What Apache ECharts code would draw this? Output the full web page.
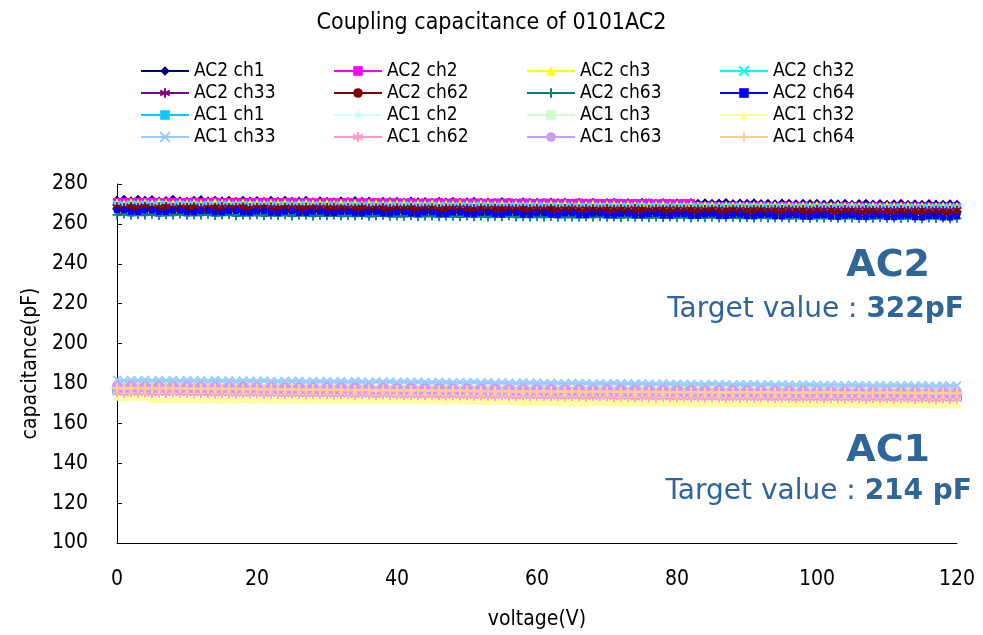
<!DOCTYPE html>
<html><head><meta charset="utf-8">
<script src="https://cdn.jsdelivr.net/npm/echarts@6/dist/echarts.min.js"></script>
<style>html,body{margin:0;padding:0;background:#fff}#c{width:983px;height:635px}</style>
</head><body><div id="c"></div>
<script>
const titleText = 'Coupling capacitance of 0101AC2';
const xTicks = [0, 20, 40, 60, 80, 100, 120];
const yTicks = [100, 120, 140, 160, 180, 200, 220, 240, 260, 280];
const voltage = [0,1,2,3,4,5,6,7,8,9,10,11,12,13,14,15,16,17,18,19,20,21,22,23,24,25,26,27,28,29,30,31,32,33,34,35,36,37,38,39,40,41,42,43,44,45,46,47,48,49,50,51,52,53,54,55,56,57,58,59,60,61,62,63,64,65,66,67,68,69,70,71,72,73,74,75,76,77,78,79,80,81,82,83,84,85,86,87,88,89,90,91,92,93,94,95,96,97,98,99,100,101,102,103,104,105,106,107,108,109,110,111,112,113,114,115,116,117,118,119,120];
const seriesNames = ['AC2 ch1','AC2 ch2','AC2 ch3','AC2 ch32','AC2 ch33','AC2 ch62','AC2 ch63','AC2 ch64','AC1 ch1','AC1 ch2','AC1 ch3','AC1 ch32','AC1 ch33','AC1 ch62','AC1 ch63','AC1 ch64'];

const ac2ch1 = [272.0,272.4,271.6,272.3,271.8,272.2,271.5,271.7,272.3,271.6,
271.4,271.9,272.2,271.5,271.9,271.6,271.8,271.3,271.9,271.5,
271.7,271.2,271.8,271.4,271.9,271.3,271.5,271.8,271.1,271.6,
271.4,271.1,271.6,271.2,271.7,271.3,271.5,271.0,271.4,271.2,
271.3,270.9,271.5,271.1,271.2,270.8,271.3,271.0,271.4,270.8,
271.1,271.3,270.8,271.0,270.7,271.2,270.9,270.6,271.1,270.8,
270.9,270.6,271.0,270.7,270.9,270.5,270.8,270.6,270.9,270.4,
270.7,270.8,270.5,270.7,270.4,270.8,270.6,270.3,270.7,270.5,
270.6,270.3,270.7,270.4,270.6,270.3,270.5,270.7,270.2,270.5,
270.4,270.6,270.2,270.4,270.1,270.5,270.3,270.1,270.4,270.2,
270.3,270.0,270.4,270.1,270.3,269.9,270.2,270.4,270.0,270.2,
269.9,270.1,270.3,269.9,270.1,269.8,270.2,270.0,269.8,270.1,269.9];
const ac2ch2 = [271.0,271.1,270.9,271.1,271.0,271.2,270.9,271.0,271.1,270.9,
271.0,271.1,270.9,271.0,271.2,270.9,271.0,271.1,270.8,271.0,
270.9,271.1,270.8,271.0,270.9,271.1,270.8,271.0,270.9,270.7,
271.0,270.9,270.8,271.0,270.7,270.9,270.8,271.0,270.7,270.9,
270.8,270.7,270.9,270.6,270.8,270.7,270.9,270.6,270.8,270.7,
270.6,270.8,270.7,270.5,270.7,270.6,270.8,270.5,270.7,270.6,
270.5,270.7,270.6,270.4,270.6,270.5,270.7,270.4,270.6,270.5,
270.4,270.6,270.5,270.3,270.5,270.4,270.6,270.3,270.5,270.4,
270.3,270.5,270.4,269.1,268.9,269.1,269.0,268.8,269.0,268.9,
269.1,268.8,269.0,268.9,268.7,268.9,269.0,268.8,268.9,268.7,
268.9,268.8,268.6,268.8,268.9,268.7,268.8,268.6,268.8,268.7,
268.5,268.7,268.8,268.6,268.7,268.5,268.7,268.6,268.4,268.6,268.5];
const ac2ch3 = [270.6,270.2,270.9,270.4,270.7,270.3,270.8,270.5,270.2,270.7,
270.4,270.6,270.1,270.5,270.8,270.3,270.5,270.2,270.6,270.3,
270.5,270.1,270.4,270.2,270.6,270.0,270.3,270.5,270.1,270.4,
270.2,270.0,270.4,270.1,270.3,269.9,270.2,270.4,269.9,270.2,
270.0,270.3,269.8,270.1,269.9,270.2,269.8,270.0,269.7,270.1,
269.9,269.7,270.0,269.8,269.6,270.0,269.7,269.9,269.6,269.8,
269.7,269.5,269.9,269.6,269.8,269.4,269.7,269.5,269.8,269.4,
269.6,269.7,269.3,269.6,269.4,269.7,269.3,269.5,269.6,269.2,
269.5,269.3,269.6,269.2,269.4,269.5,269.1,269.4,269.2,269.5,
269.1,269.3,269.4,269.0,269.3,269.1,269.4,269.0,269.2,269.1,
269.3,268.9,269.1,269.2,268.9,269.2,269.0,268.8,269.1,268.9,
269.2,268.8,269.0,269.1,268.7,269.0,268.9,268.7,269.0,268.8,268.9];
const ac2ch32 = [269.6,269.3,269.8,269.4,269.6,269.2,269.7,269.5,269.3,269.6,
269.4,269.7,269.2,269.5,269.3,269.6,269.1,269.4,269.5,269.2,
269.4,269.1,269.5,269.2,269.4,269.0,269.3,269.5,269.1,269.3,
269.2,269.4,269.0,269.3,269.1,268.9,269.3,269.0,269.2,268.9,
269.1,269.2,268.8,269.1,268.9,269.2,268.8,269.0,268.9,268.7,
269.0,268.8,269.1,268.7,268.9,268.8,268.6,268.9,268.7,268.9,
268.7,268.9,268.6,268.8,268.5,268.8,268.7,268.5,268.8,268.6,
268.7,268.5,268.8,268.4,268.6,268.7,268.4,268.6,268.5,268.3,
268.6,268.4,268.6,268.3,268.5,268.4,268.2,268.5,268.3,268.5,
268.3,268.4,268.2,268.5,268.2,268.4,268.1,268.3,268.4,268.1,
268.3,268.2,268.0,268.3,268.1,268.3,268.0,268.2,268.1,267.9,
268.2,268.0,268.2,267.9,268.1,268.0,267.8,268.1,267.9,268.0,267.9];
const ac2ch33 = [268.6,268.2,268.7,268.4,268.8,268.3,268.5,268.7,268.2,268.6,
268.4,268.6,268.1,268.5,268.3,268.7,268.2,268.4,268.6,268.1,
268.4,268.2,268.5,268.0,268.3,268.4,268.1,268.3,268.0,268.4,
268.2,268.3,267.9,268.2,268.0,268.3,267.9,268.1,268.2,267.8,
268.1,267.9,268.2,267.8,268.0,268.1,267.7,268.0,267.8,268.1,
267.9,267.7,268.0,267.8,267.9,267.6,267.9,267.7,267.9,267.6,
267.8,267.6,267.9,267.5,267.7,267.8,267.5,267.7,267.6,267.4,
267.7,267.5,267.6,267.4,267.7,267.5,267.3,267.6,267.4,267.6,
267.4,267.5,267.3,267.5,267.2,267.4,267.5,267.2,267.4,267.3,
267.1,267.4,267.3,267.1,267.3,267.2,267.4,267.1,267.2,267.0,
267.3,267.1,267.2,267.0,267.2,266.9,267.1,267.2,266.9,267.1,
267.0,266.9,267.1,266.8,267.0,267.1,266.8,267.0,266.9,266.8,267.0];
const ac2ch62 = [267.6,267.0,268.0,267.3,267.8,267.1,267.5,268.0,267.2,267.6,
267.3,267.8,266.9,267.4,267.7,267.0,267.5,267.2,267.8,266.9,
267.3,267.6,266.8,267.2,267.5,266.9,267.4,267.0,267.5,266.7,
267.2,266.9,267.4,266.7,267.1,267.3,266.6,267.0,267.2,266.6,
267.0,266.7,267.2,266.5,266.9,267.1,266.5,266.8,267.0,266.4,
266.8,266.5,266.9,266.3,266.7,266.8,266.3,266.6,266.9,266.2,
266.6,266.3,266.8,266.2,266.5,266.7,266.1,266.4,266.6,266.1,
266.5,266.2,266.6,266.0,266.3,266.5,265.9,266.3,266.4,265.9,
266.3,266.0,266.4,265.8,266.2,266.3,265.8,266.1,266.3,265.7,
266.1,265.8,266.2,265.7,266.0,266.1,265.6,265.9,266.1,265.5,
265.9,265.6,266.0,265.5,265.8,265.9,265.4,265.7,265.9,265.3,
265.7,265.5,265.8,265.2,265.6,265.7,265.2,265.5,265.6,265.1,265.5];
const ac2ch63 = [264.5,264.9,264.3,264.7,264.4,264.8,264.2,264.6,264.5,264.9,
264.3,264.6,264.4,264.8,264.2,264.5,264.7,264.1,264.5,264.3,
264.6,264.1,264.4,264.2,264.6,264.0,264.3,264.5,264.0,264.3,
264.1,264.4,263.9,264.2,264.0,264.3,263.8,264.1,264.3,263.8,
264.0,263.8,264.2,263.7,264.0,263.9,263.6,264.0,263.8,263.6,
263.9,263.6,263.9,263.5,263.8,263.6,263.9,263.4,263.7,263.5,
263.7,263.4,263.8,263.3,263.6,263.5,263.3,263.6,263.4,263.7,
263.3,263.5,263.2,263.6,263.3,263.4,263.1,263.5,263.2,263.4,
263.2,263.4,263.0,263.3,263.1,263.4,263.0,263.2,263.3,262.9,
263.2,263.0,263.3,262.9,263.1,263.2,262.8,263.1,263.0,262.8,
263.1,262.9,263.2,262.8,263.0,262.9,262.7,263.0,262.8,263.1,
262.8,263.0,262.7,262.9,262.8,262.6,262.9,262.7,262.9,262.6,262.8];
const ac2ch64 = [266.8,266.9,266.1,266.0,266.7,266.8,266.0,265.9,266.6,266.7,
265.9,265.8,266.5,266.6,265.8,265.7,266.4,266.5,265.7,265.6,
266.3,266.4,265.6,265.5,266.2,266.3,265.5,265.4,266.1,266.2,
265.4,265.3,266.0,266.1,265.3,265.2,265.9,266.0,265.2,265.1,
265.8,265.9,265.1,265.0,265.7,265.8,265.0,264.9,265.6,265.7,
264.9,264.8,265.5,265.6,264.8,264.7,265.4,265.5,264.7,264.6,
265.3,265.4,264.6,264.5,265.2,265.3,264.5,264.4,265.1,265.2,
264.4,264.3,265.0,265.1,264.3,264.2,264.9,265.0,264.2,264.1,
264.8,264.9,264.1,264.0,264.7,264.8,264.0,263.9,264.6,264.7,
263.9,263.8,264.5,264.6,263.8,263.7,264.4,264.5,263.7,263.6,
264.3,264.4,263.6,263.5,264.2,264.3,263.5,263.4,264.1,264.2,
263.4,263.3,264.0,264.1,263.3,263.2,263.9,264.0,263.2,263.1,263.8];
const ac1ch1 = [176.5,176.4,176.6,176.3,176.5,176.4,176.2,176.5,176.3,176.4,
176.2,176.3,176.1,176.3,176.0,176.2,176.1,175.9,176.1,176.0,
175.9,176.0,175.8,175.9,175.7,175.9,175.8,175.6,175.8,175.7,
175.6,175.7,175.5,175.6,175.4,175.6,175.5,175.3,175.5,175.4,
175.3,175.4,175.2,175.3,175.1,175.3,175.2,175.0,175.2,175.1,
175.0,175.1,174.9,175.0,174.8,175.0,174.9,174.7,174.9,174.8,
174.7,174.8,174.6,174.7,174.5,174.7,174.6,174.4,174.6,174.5,
174.4,174.5,174.3,174.4,174.2,174.4,174.3,174.1,174.3,174.2,
174.1,174.2,174.0,174.1,173.9,174.1,174.0,173.8,174.0,173.9,
173.8,173.9,173.7,173.8,173.6,173.8,173.7,173.5,173.7,173.6,
173.5,173.6,173.4,173.5,173.3,173.5,173.4,173.2,173.4,173.3,
173.2,173.3,173.1,173.2,173.0,173.2,173.1,172.9,173.1,173.0,172.8];
const ac1ch2 = [177.2,177.4,177.1,177.3,177.0,177.3,177.2,177.0,177.3,177.1,
177.0,177.2,176.9,177.1,176.9,177.0,176.8,177.1,176.9,176.8,
177.0,176.7,176.9,176.8,176.6,176.8,176.7,176.5,176.8,176.6,
176.5,176.7,176.4,176.6,176.5,176.3,176.5,176.4,176.2,176.4,
176.3,176.1,176.4,176.2,176.0,176.2,176.1,175.9,176.1,176.0,
175.8,176.0,175.9,175.7,175.9,175.8,175.6,175.8,175.7,175.5,
175.7,175.6,175.4,175.6,175.5,175.3,175.5,175.4,175.2,175.4,
175.3,175.1,175.3,175.2,175.0,175.2,175.1,174.9,175.1,175.0,
174.9,175.0,174.8,174.9,174.7,174.9,174.8,174.6,174.8,174.7,
174.6,174.8,174.5,174.7,174.6,174.4,174.6,174.5,174.3,174.5,
174.4,174.6,174.3,174.5,174.4,174.2,174.4,174.3,174.1,174.3,
174.2,174.4,174.1,174.3,174.2,174.0,174.2,174.1,173.9,174.1,174.0];
const ac1ch3 = [176.0,176.2,175.9,176.1,175.8,176.0,176.1,175.8,176.0,175.9,
175.7,175.9,175.8,175.6,175.8,175.7,175.5,175.7,175.6,175.4,
175.6,175.5,175.3,175.5,175.4,175.2,175.4,175.3,175.1,175.3,
175.2,175.0,175.2,175.1,174.9,175.1,175.0,174.8,175.0,174.9,
174.7,174.9,174.8,174.6,174.8,174.7,174.5,174.7,174.6,174.4,
174.6,174.5,174.3,174.5,174.4,174.2,174.4,174.3,174.1,174.3,
174.2,174.0,174.2,174.1,173.9,174.1,174.0,173.8,174.0,173.9,
173.8,173.9,173.7,173.9,173.8,173.6,173.8,173.7,173.5,173.7,
173.6,173.4,173.6,173.5,173.3,173.5,173.4,173.2,173.4,173.3,
173.5,173.3,173.4,173.2,173.4,173.3,173.1,173.3,173.2,173.0,
173.3,173.2,173.0,173.2,173.1,172.9,173.1,173.0,172.8,173.0,
173.1,172.9,173.0,172.8,173.0,172.9,172.7,172.9,172.8,172.6,172.8];
const ac1ch32 = [173.6,173.4,173.7,173.5,173.6,172.4,172.5,172.3,172.5,172.4,
172.3,172.5,172.2,172.4,172.3,172.1,172.3,172.2,172.4,172.1,
172.3,172.2,172.0,172.2,172.1,172.3,172.0,172.2,172.1,171.9,
172.1,172.0,172.2,171.9,172.1,172.0,171.8,172.0,171.9,172.1,
171.8,172.0,171.9,171.7,171.9,171.8,172.0,171.7,171.9,171.8,
171.6,171.8,171.7,171.5,171.7,171.6,171.4,171.3,171.1,171.2,
171.0,171.2,171.1,170.9,171.1,171.0,170.8,171.0,170.9,171.1,
170.8,171.0,170.9,170.7,170.9,170.8,170.6,170.8,170.7,170.9,
170.6,170.8,170.7,170.5,170.7,170.6,170.4,170.6,170.5,170.7,
170.4,170.6,170.5,170.3,170.5,170.4,170.2,170.4,170.3,170.5,
170.2,170.4,170.3,170.1,170.3,170.2,170.0,170.2,170.1,170.3,
170.0,170.2,170.1,169.9,170.1,170.0,169.8,170.0,169.9,170.1,169.9];
const ac1ch33 = [181.8,181.4,181.7,181.5,181.8,181.3,181.6,181.4,181.7,181.3,
181.6,181.4,181.5,181.2,181.6,181.3,181.5,181.1,181.4,181.3,
181.1,181.4,181.2,181.0,181.3,181.1,181.3,180.9,181.2,181.0,
181.2,180.9,181.1,180.8,181.1,180.9,180.7,181.0,180.8,181.0,
180.7,180.9,180.6,180.8,180.7,180.5,180.8,180.6,180.4,180.7,
180.5,180.7,180.4,180.6,180.3,180.5,180.4,180.2,180.5,180.3,
180.4,180.1,180.3,180.2,180.0,180.3,180.1,180.2,179.9,180.1,
180.0,180.2,179.9,180.1,179.8,180.0,179.9,179.7,180.0,179.8,
179.9,179.6,179.8,179.7,179.5,179.8,179.6,179.7,179.4,179.6,
179.5,179.7,179.4,179.6,179.3,179.5,179.4,179.2,179.5,179.3,
179.4,179.1,179.3,179.2,179.0,179.3,179.1,179.2,178.9,179.1,
179.0,179.2,178.9,179.1,178.8,179.0,178.9,178.7,179.0,178.8,178.9];
const ac1ch62 = [175.4,175.1,175.5,175.2,175.3,174.9,175.2,175.0,175.3,174.9,
175.1,174.8,175.0,174.9,174.7,175.0,174.8,174.6,174.9,174.7,
174.8,174.5,174.7,174.6,174.4,174.7,174.5,174.3,174.6,174.4,
174.5,174.2,174.4,174.3,174.1,174.4,174.2,174.0,174.3,174.1,
174.2,173.9,174.1,174.0,173.8,174.1,173.9,173.7,174.0,173.8,
173.9,173.6,173.8,173.7,173.5,173.8,173.6,173.4,173.7,173.5,
173.6,173.3,173.5,173.4,173.2,173.5,173.3,173.1,173.4,173.2,
173.3,173.0,173.2,173.1,172.9,173.2,173.0,172.8,173.1,172.9,
173.0,172.8,173.0,172.9,172.7,172.9,172.8,172.6,172.9,172.7,
172.8,172.6,172.8,172.7,172.5,172.7,172.6,172.4,172.7,172.5,
172.6,172.4,172.6,172.5,172.3,172.5,172.4,172.2,172.5,172.3,
172.4,172.2,172.4,172.3,172.1,172.3,172.2,172.0,172.3,172.1,172.2];
const ac1ch63 = [178.6,177.4,178.7,177.5,178.5,177.3,178.6,177.4,178.4,177.2,
178.5,177.3,178.3,177.1,178.4,177.2,178.2,177.0,178.3,177.1,
178.1,176.9,178.2,177.0,178.0,176.8,178.1,176.9,177.9,176.7,
178.0,176.8,177.8,176.6,177.9,176.7,177.7,176.5,177.8,176.6,
177.6,176.4,177.7,176.5,177.5,176.3,177.6,176.4,177.4,176.2,
177.5,176.3,177.3,176.1,177.4,176.2,177.2,176.0,177.3,176.1,
177.1,175.9,177.2,176.0,177.0,175.8,177.1,175.9,176.9,175.7,
177.0,175.8,176.8,175.6,176.9,175.7,176.7,175.5,176.8,175.6,
176.6,175.4,176.7,175.5,176.5,175.3,176.6,175.4,176.4,175.2,
176.5,175.3,176.3,175.1,176.4,175.2,176.2,175.0,176.3,175.1,
176.1,174.9,176.2,175.0,176.0,174.8,176.1,174.9,175.9,174.7,
176.0,174.8,175.8,174.6,175.9,174.7,175.7,174.5,175.8,174.6,175.5];
const ac1ch64 = [177.7,177.5,177.6,177.8,177.5,177.6,177.4,177.7,177.5,177.6,
177.4,177.5,177.3,177.5,177.4,177.2,177.4,177.3,177.1,177.3,
177.2,177.0,177.2,177.1,176.9,177.1,177.0,176.8,177.0,176.9,
176.8,176.9,176.7,176.8,176.6,176.8,176.7,176.5,176.7,176.6,
176.5,176.6,176.4,176.5,176.3,176.5,176.4,176.2,176.4,176.3,
176.2,176.3,176.1,176.2,176.0,176.2,176.1,175.9,176.1,176.0,
176.0,176.1,175.9,176.0,175.8,176.0,175.9,175.7,175.9,175.8,
175.8,175.9,175.7,175.8,175.6,175.8,175.7,175.5,175.7,175.6,
175.6,175.7,175.5,175.6,175.4,175.6,175.5,175.3,175.5,175.4,
175.5,175.6,175.4,175.5,175.3,175.5,175.4,175.2,175.4,175.3,
175.4,175.5,175.3,175.4,175.2,175.4,175.3,175.1,175.3,175.2,
175.3,175.4,175.2,175.3,175.1,175.3,175.2,175.0,175.2,175.1,175.2];

const seriesValues = [ac2ch1, ac2ch2, ac2ch3, ac2ch32, ac2ch33, ac2ch62, ac2ch63, ac2ch64,
  ac1ch1, ac1ch2, ac1ch3, ac1ch32, ac1ch33, ac1ch62, ac1ch63, ac1ch64];

// ---- styles (not data) ----
const SYM_X = 'path://M0,0L10,10M10,0L0,10';
const SYM_STAR = 'path://M5,0L5,10M0.7,2.5L9.3,7.5M0.7,7.5L9.3,2.5';
const SYM_PLUS = 'path://M5,0L5,10M0,5L10,5';
const looks = [
  {c:'#000080', s:'diamond', z:9},
  {c:'#FF00FF', s:'rect', z:8},
  {c:'#FFFF00', s:'triangle', z:9},
  {c:'#00FFFF', s:SYM_X, z:8, k:true},
  {c:'#800080', s:SYM_STAR, z:9, k:true},
  {c:'#800000', s:'circle', z:8},
  {c:'#008080', s:SYM_PLUS, z:9, k:true},
  {c:'#0000FF', s:'rect', z:6},
  {c:'#00CCFF', s:'rect', z:[10,6]},
  {c:'#CCFFFF', s:'diamond', z:9},
  {c:'#CCFFCC', s:'rect', z:8},
  {c:'#FFFF99', s:'triangle', z:9},
  {c:'#99CCFF', s:SYM_X, z:8, k:true},
  {c:'#FF99CC', s:SYM_STAR, z:9, k:true},
  {c:'#CC99FF', s:'circle', z:10},
  {c:'#FFCC99', s:SYM_PLUS, z:11, k:true, w:2.4}
];
const FONT = "'DejaVu Sans Condensed','DejaVu Sans',sans-serif";
const ANN = '#2F6598';

const series = seriesNames.map((name, i) => {
  const L = looks[i];
  return {
    name: name,
    type: 'line',
    data: voltage.map((v, j) => [v, seriesValues[i][j]]),
    symbol: L.s,
    symbolSize: L.z,
    showAllSymbol: true,
    lineStyle: {color: L.c, width: 3},
    itemStyle: L.k ? {color: L.c, borderColor: L.c, borderWidth: L.w || 1.8} : {color: L.c, borderWidth: 0},
    emphasis: {disabled: true},
    silent: true
  };
});

const chart = echarts.init(document.getElementById('c'), null, {renderer: 'canvas'});
chart.setOption({
  animation: false,
  backgroundColor: '#fff',
  title: {
    text: titleText, left: 'center', top: 7,
    textStyle: {fontFamily: FONT, fontSize: 23, fontWeight: 'normal', color: '#000'}
  },
  legend: {
    data: seriesNames,
    left: 140, top: 60, width: 780, padding: 0,
    itemWidth: 48, itemHeight: 12, itemGap: 0,
    textStyle: {fontFamily: FONT, fontSize: 19, color: '#000', width: 139, lineHeight: 22},
    selectedMode: false
  },
  grid: {left: 117, right: 26, top: 184, bottom: 89},
  xAxis: {
    type: 'value', min: xTicks[0], max: xTicks[xTicks.length - 1], interval: 20,
    axisLine: {show: true, lineStyle: {color: '#000', width: 1}},
    axisTick: {show: false},
    splitLine: {show: false},
    axisLabel: {fontFamily: FONT, fontSize: 21, color: '#000', margin: 26},
    name: 'voltage(V)', nameLocation: 'middle', nameGap: 66,
    nameTextStyle: {fontFamily: FONT, fontSize: 21, color: '#000'}
  },
  yAxis: {
    type: 'value', min: yTicks[0], max: yTicks[yTicks.length - 1], interval: 20,
    axisLine: {show: true, lineStyle: {color: '#000', width: 1}},
    axisTick: {show: true, inside: true, length: 5, lineStyle: {color: '#000'}},
    splitLine: {show: false},
    axisLabel: {fontFamily: FONT, fontSize: 21, color: '#000', margin: 29},
    name: 'capacitance(pF)', nameLocation: 'middle', nameGap: 71, nameRotate: 90,
    nameTextStyle: {fontFamily: FONT, fontSize: 21, color: '#000'}
  },
  graphic: [
    {type: 'text', x: 930, y: 266, style: {text: 'AC2', fill: ANN, font: "bold 38px 'DejaVu Sans'", textAlign: 'right', textVerticalAlign: 'middle'}},
    {type: 'text', x: 964, y: 310, style: {text: '{n|Target value : }{b|322pF}', textAlign: 'right', textVerticalAlign: 'middle',
      rich: {n: {fill: ANN, fontSize: 28, fontFamily: 'DejaVu Sans'}, b: {fill: ANN, fontSize: 28, fontWeight: 'bold', fontFamily: 'DejaVu Sans'}}}},
    {type: 'text', x: 930, y: 451, style: {text: 'AC1', fill: ANN, font: "bold 38px 'DejaVu Sans'", textAlign: 'right', textVerticalAlign: 'middle'}},
    {type: 'text', x: 972, y: 492, style: {text: '{n|Target value : }{b|214 pF}', textAlign: 'right', textVerticalAlign: 'middle',
      rich: {n: {fill: ANN, fontSize: 28, fontFamily: 'DejaVu Sans'}, b: {fill: ANN, fontSize: 28, fontWeight: 'bold', fontFamily: 'DejaVu Sans'}}}}
  ],
  series: series
});
</script>
</body></html>
